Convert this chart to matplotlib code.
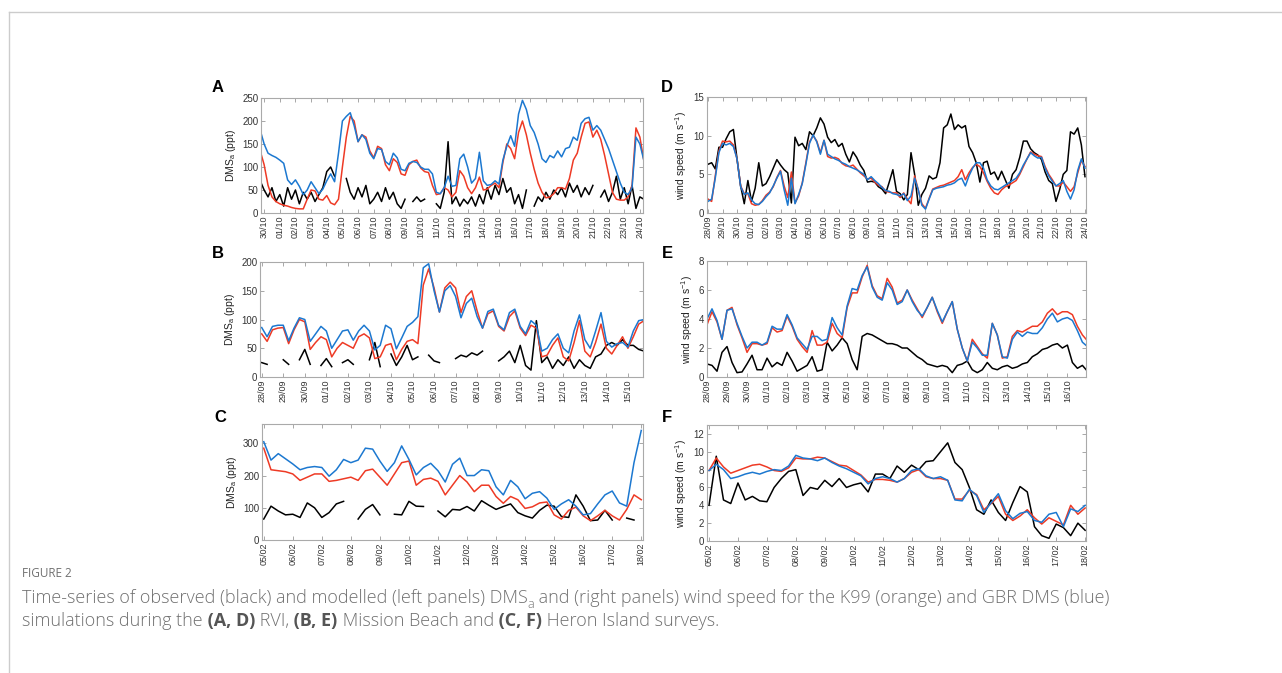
import numpy as np
import matplotlib
matplotlib.use("Agg")
import matplotlib.pyplot as plt
from matplotlib.lines import Line2D

nan = np.nan
W, H = 1282, 673
FONT = ['Liberation Sans', 'DejaVu Sans']
CAPFONT = ['Open Sans', 'DejaVu Sans']
BLUE = '#1c78d0'
RED = '#ee3a25'

# ---------------- data (values every 6 h) ----------------
# A: RVI, DMSa (ppt), first sample at day -0.25
a_obs = [70, 50, 35, 55, 25, 40, 15, 55, 30, 50,
         20, 45, 30, 45, 25, 40, 55, 90, 100, 80,
         nan, nan, 75, 45, 30, 55, 35, 60, 20, 30,
         45, 25, 55, 30, 45, 20, 10, 30, nan, 25,
         35, 25, 30, nan, nan, 20, 10, 45, 155, 20,
         35, 15, 30, 20, 35, 15, 40, 20, 55, 30,
         60, 40, 75, 45, 55, 20, 40, 10, 50, nan,
         15, 35, 25, 45, 30, 50, 40, 55, 35, 65,
         45, 60, 35, 55, 40, 60, nan, 35, 50, 25,
         45, 80, 30, 55, 20, 60, 10, 35, 30]
a_k99 = [135, 105, 60, 35, 25, 20, 17, 15, 12, 10,
         9, 9, 30, 50, 48, 30, 28, 38, 22, 18,
         30, 100, 165, 210, 200, 155, 170, 165, 135, 120,
         145, 140, 105, 92, 118, 110, 85, 82, 105, 112,
         115, 98, 90, 88, 60, 40, 42, 55, 50, 35,
         45, 92, 80, 55, 42, 55, 78, 50, 52, 60,
         65, 55, 110, 150, 140, 118, 175, 200, 170, 130,
         95, 65, 45, 33, 35, 42, 55, 55, 52, 75,
         115, 130, 165, 195, 198, 165, 180, 160, 125, 85,
         45, 30, 28, 28, 35, 60, 185, 165, 115]
a_gbr = [180, 150, 130, 125, 121, 115, 108, 72, 62, 72,
         58, 40, 50, 68, 55, 42, 52, 70, 85, 68,
         130, 200, 210, 218, 190, 155, 170, 160, 130, 118,
         140, 138, 112, 105, 130, 120, 95, 92, 108, 112,
         110, 100, 95, 95, 85, 45, 42, 55, 80, 58,
         60, 118, 128, 100, 65, 75, 132, 70, 60, 62,
         70, 63, 115, 145, 168, 145, 215, 245, 225, 190,
         175, 150, 118, 110, 125, 120, 135, 122, 140, 143,
         165, 158, 195, 205, 208, 180, 190, 180, 160, 140,
         115, 90, 65, 45, 40, 55, 165, 150, 115]
a_ticks = ['30/10'] + ['%02d/10' % d for d in range(1, 25)]

# D: RVI, wind speed (m/s), first sample at day 0
d_obs = [6.3, 6.5, 5.7, 8.5, 8.5, 9.6, 10.5, 10.8, 7.0, 3.5,
         1.2, 4.2, 1.5, 3.2, 6.5, 3.5, 3.8, 4.7, 5.8, 6.9,
         6.2, 5.6, 5.2, 1.3, 9.8, 8.7, 9.0, 8.2, 10.5, 10.0,
         11.0, 12.3, 11.5, 9.8, 9.1, 9.5, 8.6, 9.0, 7.6, 6.6,
         7.9, 7.2, 6.2, 5.5, 4.0, 4.1, 4.0, 3.4, 3.1, 2.5,
         4.0, 5.6, 2.8, 2.5, 1.7, 2.4, 7.8, 5.0, 1.0, 2.4,
         3.2, 4.8, 4.4, 4.6, 6.5, 11.0, 11.4, 12.8, 10.8, 11.4,
         11.0, 11.3, 8.6, 7.8, 6.5, 4.0, 6.5, 6.7, 5.0, 5.3,
         4.3, 5.4, 4.3, 3.2, 5.0, 5.6, 7.2, 9.3, 9.3, 8.3,
         7.8, 7.5, 6.9, 5.3, 4.2, 3.8, 1.5, 3.0, 5.0, 5.5,
         10.5, 10.2, 11.0, 8.8, 4.7]
d_k99 = [1.8, 1.5, 4.8, 8.0, 9.3, 9.2, 9.3, 8.8, 7.0, 3.5,
         2.5, 2.5, 1.2, 1.0, 1.1, 1.6, 2.3, 2.7, 3.4, 4.6,
         5.5, 3.5, 2.0, 5.3, 1.3, 2.2, 3.9, 6.5, 9.2, 10.0,
         9.3, 7.8, 9.4, 7.3, 7.1, 7.2, 7.0, 6.4, 6.1, 6.0,
         6.2, 5.7, 5.2, 4.8, 4.4, 4.5, 4.0, 3.6, 3.4, 2.8,
         2.7, 2.6, 2.6, 2.0, 2.6, 1.8, 1.2, 4.8, 3.0, 1.2,
         0.6, 1.9, 3.1, 3.3, 3.5, 3.6, 3.8, 4.0, 4.2, 4.7,
         5.6, 4.3, 5.2, 5.9, 6.3, 6.0, 5.2, 4.1, 3.2, 2.6,
         2.4, 3.0, 3.4, 3.6, 3.9, 4.2, 5.0, 6.0, 7.0, 7.9,
         7.6, 7.4, 7.3, 6.0, 5.0, 4.3, 3.5, 3.5, 4.0, 3.4,
         2.8, 3.4, 5.2, 6.8, 6.0]
d_gbr = [1.5, 1.8, 4.5, 7.8, 9.0, 8.8, 9.0, 8.6, 7.0, 3.4,
         2.4, 2.6, 1.7, 1.2, 1.1, 1.5, 2.1, 2.6, 3.5, 4.5,
         5.4, 3.0, 1.0, 4.5, 1.2, 2.4, 3.8, 6.3, 9.0, 10.1,
         9.2, 7.6, 9.4, 7.6, 7.3, 7.0, 6.8, 6.5, 6.3, 6.0,
         5.8, 5.6, 5.3, 5.0, 4.3, 4.7, 4.2, 3.8, 3.3, 2.9,
         2.8, 2.5, 2.4, 2.2, 2.5, 1.6, 2.2, 4.5, 3.0, 1.0,
         0.5, 1.8, 3.0, 3.2, 3.3, 3.4, 3.6, 3.7, 3.9, 4.3,
         4.5, 3.5, 4.8, 5.8, 6.5, 6.5, 5.8, 4.3, 3.5, 3.1,
         3.0, 3.3, 3.6, 3.9, 4.2, 4.5, 5.2, 6.2, 7.0, 7.8,
         7.4, 7.1, 7.2, 5.8, 4.8, 4.1, 3.5, 3.8, 4.2, 2.8,
         1.8, 3.0, 5.5, 7.0, 5.8]
d_ticks = ['28/09', '29/10', '30/10'] + ['%02d/10' % d for d in range(1, 25)]

# B: Mission Beach, DMSa (ppt)
b_obs = [25, 22, nan, nan, 30, 22, nan, 30, 48, 22,
         nan, 20, 32, 18, nan, 25, 30, 22, nan, nan,
         30, 60, 18, nan, 40, 20, 35, 55, 30, 35,
         nan, 38, 28, 25, nan, nan, 32, 38, 35, 42,
         38, 45, nan, nan, 28, 35, 45, 25, 55, 20,
         12, 98, 25, 35, 15, 30, 20, 35, 15, 30,
         20, 15, 35, 40, 55, 60, 55, 65, 55, 55,
         48, 45]
b_k99 = [75, 62, 82, 85, 86, 58, 82, 100, 96, 48,
         60, 70, 65, 35, 50, 60, 55, 50, 70, 75,
         68, 32, 35, 55, 58, 30, 48, 62, 65, 58,
         160, 188, 155, 113, 155, 165, 155, 112, 140, 150,
         115, 85, 110, 115, 88, 80, 105, 115, 85, 72,
         90, 85, 35, 38, 55, 68, 35, 28, 60, 98,
         45, 35, 60, 92, 50, 40, 55, 70, 50, 70,
         92, 98]
b_gbr = [86, 70, 88, 90, 90, 63, 85, 103, 100, 62,
         75, 88, 80, 50, 65, 80, 82, 64, 80, 90,
         80, 47, 55, 90, 84, 49, 68, 88, 95, 105,
         190, 197, 150, 113, 150, 159, 140, 103, 128, 137,
         105, 85, 114, 118, 90, 82, 112, 118, 88, 75,
         98, 90, 45, 50, 65, 75, 50, 42, 80, 108,
         65, 50, 80, 112, 62, 52, 58, 60, 52, 80,
         98, 100]
b_ticks = ['28/09', '29/09', '30/09'] + ['%02d/10' % d for d in range(1, 16)]

# E: Mission Beach, wind speed (m/s)
e_obs = [0.9, 0.8, 0.4, 1.7, 2.1, 1.0, 0.3, 0.35, 0.9, 1.5,
         0.5, 0.5, 1.3, 0.7, 1.0, 0.8, 1.7, 1.1, 0.4, 0.6,
         0.8, 1.4, 0.4, 0.5, 2.4, 1.8, 2.2, 2.7, 2.3, 1.2,
         0.5, 2.8, 3.0, 2.9, 2.7, 2.5, 2.3, 2.3, 2.2, 2.0,
         2.0, 1.7, 1.4, 1.2, 0.9, 0.8, 0.7, 0.8, 0.7, 0.3,
         0.8, 0.9, 1.1, 0.5, 0.3, 0.5, 1.0, 0.6, 0.5, 0.7,
         0.8, 0.6, 0.7, 0.9, 1.0, 1.4, 1.6, 1.9, 2.0, 2.2,
         2.3, 2.0, 2.2, 1.0, 0.6, 0.8, 0.4]
e_k99 = [3.6, 4.5, 3.8, 2.6, 4.6, 4.8, 3.6, 2.7, 1.7, 2.3,
         2.3, 2.2, 2.3, 3.4, 3.1, 3.2, 4.2, 3.5, 2.6, 2.1,
         1.7, 3.2, 2.2, 2.2, 2.4, 3.7, 3.0, 2.7, 4.8, 5.8,
         5.8, 6.9, 7.7, 6.3, 5.6, 5.4, 6.8, 6.2, 5.1, 5.3,
         6.0, 5.3, 4.7, 4.1, 4.8, 5.5, 4.5, 3.7, 4.5, 5.2,
         3.3, 2.0, 1.1, 2.6, 2.1, 1.6, 1.3, 3.7, 2.9, 1.3,
         1.4, 2.8, 3.2, 3.1, 3.3, 3.5, 3.5, 3.8, 4.4, 4.7,
         4.3, 4.5, 4.5, 4.3, 3.5, 2.9, 2.5]
e_gbr = [4.0, 4.7, 3.9, 2.6, 4.6, 4.7, 3.7, 2.8, 2.0, 2.4,
         2.4, 2.2, 2.4, 3.5, 3.3, 3.3, 4.3, 3.6, 2.7, 2.3,
         1.9, 2.8, 2.8, 2.5, 2.6, 4.1, 3.4, 2.9, 4.9, 6.1,
         6.0, 7.0, 7.6, 6.2, 5.5, 5.3, 6.5, 6.0, 5.0, 5.2,
         6.0, 5.2, 4.6, 4.2, 4.8, 5.5, 4.6, 3.8, 4.5, 5.2,
         3.3, 2.0, 1.1, 2.4, 2.0, 1.5, 1.5, 3.7, 2.9, 1.4,
         1.3, 2.6, 3.1, 2.8, 3.1, 3.0, 3.0, 3.4, 4.0, 4.4,
         3.8, 4.0, 4.1, 3.9, 3.2, 2.4, 2.1]
e_ticks = ['28/09', '29/09', '30/09'] + ['%02d/10' % d for d in range(1, 17)]

# C: Heron Island, DMSa (ppt)
c_obs = [65, 105, 90, 78, 80, 70, 115, 100, 70, 85,
         112, 120, nan, 65, 95, 110, 78, nan, 80, 78,
         120, 105, 104, nan, 90, 72, 95, 93, 104, 90,
         122, 108, 95, 104, 112, 85, 75, 68, 92, 108,
         105, 73, 70, 140, 105, 60, 62, 92, 62, nan,
         68, 62, nan]
c_k99 = [285, 218, 215, 212, 205, 185, 195, 205, 205, 182,
         185, 190, 195, 185, 215, 220, 195, 170, 205, 240,
         245, 170, 188, 192, 182, 140, 170, 200, 180, 150,
         170, 170, 135, 114, 135, 125, 98, 103, 115, 118,
         78, 65, 92, 102, 75, 60, 75, 92, 75, 62,
         95, 140, 125]
c_gbr = [305, 248, 268, 252, 236, 218, 225, 228, 225, 198,
         218, 250, 240, 248, 285, 282, 245, 213, 240, 292,
         250, 202, 225, 238, 215, 180, 235, 254, 200, 200,
         218, 215, 165, 140, 185, 165, 128, 145, 150, 130,
         95, 112, 125, 105, 78, 82, 112, 140, 152, 115,
         105, 240, 340]
c_ticks = ['%02d/02' % d for d in range(5, 19)]

# F: Heron Island, wind speed (m/s)
f_obs = [4.0, 9.5, 4.6, 4.2, 6.5, 4.6, 5.0, 4.5, 4.4, 6.0,
         7.0, 7.8, 8.0, 5.1, 6.0, 5.8, 6.8, 6.1, 7.0, 6.0,
         6.3, 6.5, 5.5, 7.5, 7.5, 7.0, 8.4, 7.7, 8.5, 8.0,
         8.9, 9.0, 10.0, 11.0, 8.8, 8.0, 6.0, 3.5, 3.0, 4.6,
         3.2, 2.3, 4.3, 6.1, 5.5, 1.6, 0.6, 0.3, 1.9, 1.5,
         0.6, 2.0, 1.2]
f_k99 = [7.9, 9.3, 8.3, 7.6, 7.9, 8.2, 8.5, 8.6, 8.3, 7.9,
         7.8, 8.2, 9.3, 9.2, 9.2, 9.4, 9.3, 8.9, 8.5, 8.4,
         7.9, 7.4, 6.6, 6.9, 6.9, 6.8, 6.6, 7.0, 7.7, 8.0,
         7.2, 7.0, 7.0, 6.8, 4.7, 4.7, 5.7, 5.2, 3.5, 4.2,
         5.0, 3.0, 2.3, 2.8, 3.5, 2.6, 1.9, 2.6, 2.2, 1.8,
         4.0, 3.0, 3.7]
f_gbr = [7.9, 8.6, 8.0, 7.0, 7.2, 7.5, 7.7, 7.5, 7.8, 8.0,
         7.9, 8.4, 9.6, 9.3, 9.2, 9.0, 9.3, 8.8, 8.4, 8.1,
         7.7, 7.3, 6.4, 7.0, 7.2, 7.0, 6.6, 7.0, 7.9, 8.1,
         7.3, 7.0, 7.2, 6.8, 4.6, 4.5, 5.8, 5.1, 3.2, 4.3,
         5.3, 3.4, 2.5, 3.1, 3.3, 2.3, 2.1, 3.0, 3.2, 1.6,
         3.6, 3.3, 4.0]
f_ticks = c_ticks

DMS_LABEL = 'DMS$_\\mathregular{a}$ (ppt)'
WIND_LABEL = 'wind speed (m s$^\\mathregular{-1}$)'

# label, rect (px: left, top, right, bottom), series, t0, xlim, ylim, yticks, ticklabels, ylabel, label pos
panels = [
    ('A', (261, 98, 643, 213), (a_obs, a_k99, a_gbr), -0.25, (-0.2, 24.2), (0, 250),
     range(0, 251, 50), a_ticks, DMS_LABEL, (218, 87)),
    ('D', (707, 97, 1086, 213), (d_obs, d_k99, d_gbr), 0.0, (-0.07, 26.07), (0, 15),
     [0, 5, 10, 15], d_ticks, WIND_LABEL, (667, 88)),
    ('B', (260, 262, 643, 377), (b_obs, b_k99, b_gbr), 0.0, (-0.08, 17.7), (0, 200),
     range(0, 201, 50), b_ticks, DMS_LABEL, (218, 253)),
    ('E', (707, 261, 1086, 377), (e_obs, e_k99, e_gbr), 0.0, (0.0, 18.93), (0, 8),
     [0, 2, 4, 6, 8], e_ticks, WIND_LABEL, (667, 253)),
    ('C', (262, 424, 643, 540), (c_obs, c_k99, c_gbr), 0.0, (-0.06, 13.06), (0, 360),
     [0, 100, 200, 300], c_ticks, DMS_LABEL, (220, 417)),
    ('F', (707, 425, 1086, 541), (f_obs, f_k99, f_gbr), 0.0, (-0.07, 13.03), (0, 13),
     range(0, 13, 2), f_ticks, WIND_LABEL, (667, 417)),
]

fig = plt.figure(figsize=(W / 100, H / 100), dpi=100)
fig.patch.set_facecolor('white')

for lab, (l, t, r, b), series, t0, xl, yl, yt, xtl, ylab, lp in panels:
    ax = fig.add_axes([l / W, 1 - b / H, (r - l) / W, (b - t) / H])
    obs, k99, gbr = series
    assert len(obs) == len(k99) == len(gbr), lab
    tt = t0 + 0.25 * np.arange(len(obs))
    ax.plot(tt, obs, color='black', lw=1.1)
    ax.plot(tt, k99, color=RED, lw=1.1)
    ax.plot(tt, gbr, color=BLUE, lw=1.1)
    ax.set_xlim(*xl)
    ax.set_ylim(*yl)
    ax.set_yticks(list(yt))
    ax.set_xticks(range(len(xtl)))
    ax.set_xticklabels(xtl, rotation=90, fontsize=6.5, family=FONT, color='#333333')
    for tl in ax.get_yticklabels():
        tl.set_fontsize(7)
        tl.set_family(FONT)
        tl.set_color('#333333')
    ax.tick_params(direction='in', top=True, right=True, length=3, width=0.6,
                   color='#999999', pad=2)
    for s in ax.spines.values():
        s.set_color('#aaaaaa')
        s.set_linewidth(0.8)
    ax.set_ylabel(ylab, fontsize=7.5, family=FONT, color='#222222', labelpad=3)
    fig.text(lp[0] / W, 1 - lp[1] / H, lab, fontsize=12, fontweight='bold',
             family=FONT, ha='center', va='center')

# frame lines of the page
fig.add_artist(Line2D([9 / W, 1], [1 - 12 / H, 1 - 12 / H], transform=fig.transFigure,
                      color='#cccccc', lw=1))
fig.add_artist(Line2D([9 / W, 9 / W], [0, 1 - 12 / H], transform=fig.transFigure,
                      color='#cccccc', lw=1))

# caption
renderer = fig.canvas.get_renderer()
CAPCOL = '#707070'


def put_parts(x_px, y_px, parts, size, keep=True):
    x = x_px
    made = []
    for s, bold, sub in parts:
        fs = size * 0.7 if sub else size
        dy = size * 0.3 * 100 / 72 if sub else 0
        tx = fig.text(x / W, 1 - (y_px + dy) / H, s, fontsize=fs,
                      fontweight='bold' if bold else 'light', family=CAPFONT,
                      color='#555555' if bold else CAPCOL, va='baseline', ha='left')
        x += tx.get_window_extent(renderer).width
        made.append(tx)
    if not keep:
        for tx in made:
            tx.remove()
    return x - x_px


line1 = [('Time-series of observed (black) and modelled (left panels) DMS', False, False),
         ('a', False, True),
         (' and (right panels) wind speed for the K99 (orange) and GBR DMS (blue)', False, False)]
line2 = [('simulations during the', False, False), (' (A, D)', True, False),
         (' RVI,', False, False), (' (B, E)', True, False),
         (' Mission Beach and', False, False), (' (C, F)', True, False),
         (' Heron Island surveys.', False, False)]

w10 = put_parts(22, 603, line1, 10, keep=False)
cap_size = 10 * 1086 / w10
put_parts(22, 603, line1, cap_size)
put_parts(22, 626, line2, cap_size)
fig.text(22 / W, 1 - 577 / H, 'FIGURE 2', fontsize=8.5, family=CAPFONT, color=CAPCOL,
         va='baseline', ha='left')

fig.savefig('out.png', dpi=100)
